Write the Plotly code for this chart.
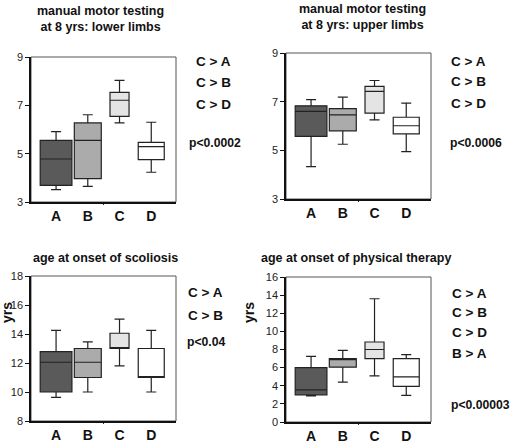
import plotly.graph_objects as go

groups = ["A", "B", "C", "D"]
fills = ["#5a5a5a", "#ababab", "#e4e4e4", "#ffffff"]
box_widths = [1.0, 0.85, 0.6, 0.82]

# panel 1: manual motor testing at 8 yrs: lower limbs
p1_low = [3.51, 3.65, 6.27, 4.23]
p1_q1 = [3.69, 3.97, 6.54, 4.75]
p1_med = [4.78, 5.55, 7.21, 5.29]
p1_q3 = [5.55, 6.27, 7.54, 5.47]
p1_high = [5.91, 6.61, 8.03, 6.30]

# panel 2: upper limbs
p2_low = [4.33, 5.25, 6.25, 4.95]
p2_q1 = [5.57, 5.80, 6.53, 5.68]
p2_med = [6.60, 6.46, 7.42, 6.01]
p2_q3 = [6.83, 6.71, 7.63, 6.36]
p2_high = [7.08, 7.19, 7.87, 6.94]

# panel 3: age at onset of scoliosis
p3_low = [9.63, 10.0, 11.8, 10.0]
p3_q1 = [10.0, 11.0, 13.0, 11.0]
p3_med = [12.05, 12.05, 13.0, 11.0]
p3_q3 = [12.78, 13.0, 14.05, 13.0]
p3_high = [14.25, 13.45, 15.03, 14.25]

# panel 4: age at onset of physical therapy
p4_low = [2.87, 4.41, 5.08, 2.94]
p4_q1 = [3.0, 6.05, 7.0, 3.94]
p4_med = [3.55, 6.95, 8.0, 4.97]
p4_q3 = [6.0, 7.0, 8.83, 7.0]
p4_high = [7.25, 7.9, 13.6, 7.43]

titles = ["manual motor testing<br>at 8 yrs: lower limbs",
          "manual motor testing<br>at 8 yrs: upper limbs",
          "age at onset of scoliosis",
          "age at onset of physical therapy"]
comparisons = [["C > A", "C > B", "C > D"],
               ["C > A", "C > B", "C > D"],
               ["C > A", "C > B"],
               ["C > A", "C > B", "C > D", "B > A"]]
pvalues = ["p<0.0002", "p<0.0006", "p<0.04", "p<0.00003"]
y_titles = ["", "", "yrs", "yrs"]

panels = [
    (p1_low, p1_q1, p1_med, p1_q3, p1_high),
    (p2_low, p2_q1, p2_med, p2_q3, p2_high),
    (p3_low, p3_q1, p3_med, p3_q3, p3_high),
    (p4_low, p4_q1, p4_med, p4_q3, p4_high),
]
y_ranges = [[3, 9], [3, 9], [8, 18], [0, 16]]
y_dticks = [2, 2, 2, 2]

W, H = 513, 446
# plot-area pixel boxes: (x0, x1, ytop, ybottom)
areas = [(31, 176, 57, 202), (286, 431, 53, 199), (31, 176, 276, 421), (286, 431, 277, 422)]
title_pos = [(100, 19), (362, 17), (105, 258), (356, 258)]
ytitle_pos = [None, None, (7, 313), (249, 313)]
ann_x = [194, 449, 186, 450]
ann_y = [[62, 83, 104], [61, 82, 103], [292, 315], [293, 312, 332, 353]]
p_pos = [(187, 143), (448, 143), (185, 342), (449, 405)]

FONT = "Liberation Sans"
fig = go.Figure()
layout = dict(width=W, height=H, margin=dict(l=0, r=0, t=0, b=0, autoexpand=False),
              paper_bgcolor="white", plot_bgcolor="white", showlegend=False,
              annotations=[], shapes=[])

xrange = [-0.79, 3.78]
px_per_unit = 145 / (xrange[1] - xrange[0])

for i, (low, q1, med, q3, high) in enumerate(panels):
    n = "" if i == 0 else str(i + 1)
    xa, ya = "x" + n, "y" + n
    x0, x1, yt, yb = areas[i]
    for g in range(4):
        wpx = box_widths[g] * px_per_unit
        fig.add_trace(go.Box(
            x=[groups[g]], q1=[q1[g]], median=[med[g]], q3=[q3[g]],
            lowerfence=[low[g]], upperfence=[high[g]],
            width=box_widths[g], whiskerwidth=min(1, 10 / wpx),
            fillcolor=fills[g], line=dict(color="#222222", width=1.2),
            boxpoints=False, hoverinfo="skip", xaxis=xa, yaxis=ya))
    layout["xaxis" + n] = dict(
        domain=[x0 / W, x1 / W], anchor=ya, type="category",
        categoryorder="array", categoryarray=groups, automargin=False,
        range=xrange, showline=True, linecolor="#111111", linewidth=1.5,
        mirror=False, showgrid=False, zeroline=False, ticks="",
        tickfont=dict(family=FONT, size=14, color="#111111", weight="bold"))
    layout["yaxis" + n] = dict(
        domain=[1 - yb / H, 1 - yt / H], anchor=xa, range=y_ranges[i],
        dtick=y_dticks[i], tick0=y_ranges[i][0], automargin=False,
        showline=True, linecolor="#111111", linewidth=1.5,
        showgrid=False, zeroline=False, ticks="outside", ticklen=4,
        tickcolor="#111111", tickfont=dict(family=FONT, size=11, color="#222222"))
    if y_titles[i]:
        yx, yy0 = ytitle_pos[i]
        layout["annotations"].append(dict(
            text="<b>" + y_titles[i] + "</b>", xref="paper", yref="paper",
            x=yx / W, y=1 - yy0 / H, xanchor="center", yanchor="middle",
            textangle=-90, showarrow=False,
            font=dict(family=FONT, size=14, color="#111111")))
    # frame top/right
    layout["shapes"].append(dict(type="rect", xref=xa + " domain", yref=ya + " domain",
                                 x0=0, x1=1, y0=0, y1=1,
                                 line=dict(color="#555555", width=1), layer="below"))
    # small tick at middle of bottom axis
    layout["shapes"].append(dict(type="line", xref=xa + " domain", yref=ya + " domain",
                                 x0=0.5, x1=0.5, y0=0, y1=-0.02,
                                 line=dict(color="#111111", width=1)))
    tx, ty = title_pos[i]
    layout["annotations"].append(dict(
        text="<b>" + titles[i] + "</b>", xref="paper", yref="paper",
        x=tx / W, y=1 - ty / H, xanchor="center", yanchor="middle", showarrow=False,
        font=dict(family=FONT, size=12.5, color="#111111")))
    for txt, yy in zip(comparisons[i], ann_y[i]):
        layout["annotations"].append(dict(
            text="<b>" + txt + "</b>", xref="paper", yref="paper",
            x=ann_x[i] / W, y=1 - yy / H, xanchor="left", yanchor="middle",
            showarrow=False, font=dict(family=FONT, size=13.5, color="#111111")))
    px_, py_ = p_pos[i]
    layout["annotations"].append(dict(
        text="<b>" + pvalues[i] + "</b>", xref="paper", yref="paper",
        x=px_ / W, y=1 - py_ / H, xanchor="left", yanchor="middle",
        showarrow=False, font=dict(family=FONT, size=12.2, color="#111111")))

fig.update_layout(**layout)
fig.write_html("out.html", config={"displayModeBar": False},
               post_script="document.body.style.margin='0';document.body.style.overflow='hidden';")
